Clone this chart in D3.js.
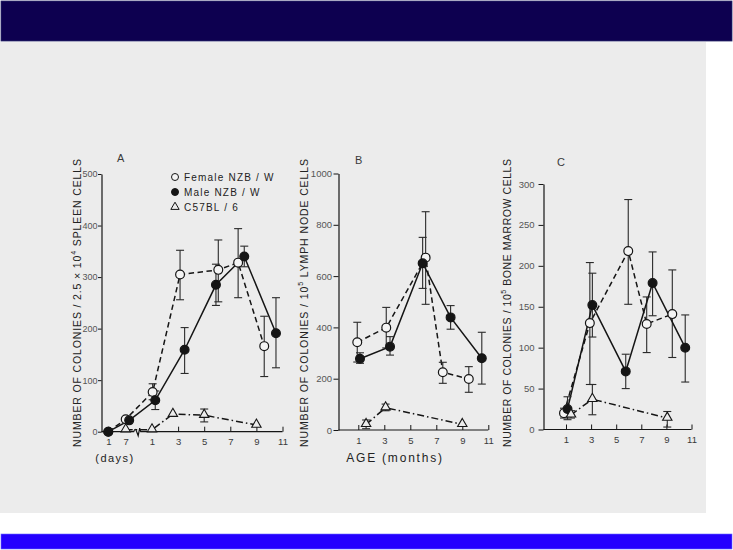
<!DOCTYPE html>
<html><head><meta charset="utf-8">
<script src="https://cdn.jsdelivr.net/npm/d3@7"></script>
<style>html,body{margin:0;padding:0;background:#fff;}svg{display:block;}</style>
</head><body>
<svg id="c" width="733" height="550"></svg>
<script>
// ---------- DATA ----------
const seriesNames = ["Female NZB / W", "Male NZB / W", "C57BL / 6"];
const panelLetters = ["A", "B", "C"];
const yTitles = [
  ["NUMBER OF COLONIES / 2.5 × 10", "4", " SPLEEN CELLS"],
  ["NUMBER OF COLONIES / 10", "5", " LYMPH NODE CELLS"],
  ["NUMBER OF COLONIES / 10", "5", " BONE MARROW CELLS"]
];
const aYTicks = [0, 100, 200, 300, 400, 500];
const bYTicks = [0, 200, 400, 600, 800, 1000];
const cYTicks = [0, 50, 100, 150, 200, 250, 300];
const dayTicks = [1, 7];
const monthTicks = [1, 3, 5, 7, 9, 11];
const xTitleA = "(days)";
const xTitleB = "AGE (months)";

// Panel A: [unit ("d" days / "m" months), x, value, low, high]
const aFemale = [["d",1,0,null,null],["d",7,24,null,null],["m",1.05,77,62,93],["m",3.15,305,256,352],["m",6.08,314,252,372],["m",7.6,328,260,394],["m",9.6,166,107,224]];
const aMale   = [["d",1,0,null,null],["d",8.2,22,null,null],["m",1.25,61,43,79],["m",3.5,159,113,202],["m",5.9,285,245,325],["m",8.07,340,320,360],["m",10.5,191,124,260]];
const aC57    = [["d",7,4,null,null],["m",1.0,4,null,null],["m",2.6,34,null,null],["m",5.0,32,19,44],["m",9.0,13,null,null]];

// Panel B: [month, value, low, high]
const bFemale = [[0.92,342,265,420],[3.15,399,320,478],[6.18,672,490,851],[7.5,225,182,264],[9.5,199,147,247]];
const bMale   = [[1.13,278,260,301],[3.44,325,292,364],[5.95,650,552,751],[8.1,439,393,485],[10.5,280,179,381]];
const bC57    = [[1.6,22,5,39],[3.1,87,75,101],[9.0,22,null,null]];

// Panel C: [month, value, low, high]
const cFemale = [[0.84,20,14,26],[2.9,130,55,204],[5.96,218,153,281],[7.43,129,94,162],[9.47,141,88,195]];
const cMale   = [[1.12,25,12,40],[3.1,152,113,191],[5.76,71,50,92],[7.9,179,139,217],[10.5,100,58,140]];
const cC57    = [[1.4,18,14,23],[3.1,37,18,55],[9.07,14,3,22]];

// ---------- DRAW ----------
const svg = d3.select("#c");
const INK = "#151515", TXT = "#3a3a3a", BG = "#ececec";
const FONT = "'Liberation Sans', Arial, sans-serif";

svg.append("rect").attr("x",0).attr("y",0).attr("width",733).attr("height",550).attr("fill","#fff");
svg.append("rect").attr("x",0).attr("y",42).attr("width",706).attr("height",471).attr("fill",BG);
svg.append("rect").attr("x",1).attr("y",1).attr("width",731).attr("height",40).attr("fill","#0d0050").attr("stroke","#2a2a6a").attr("stroke-width",0.8);
svg.append("rect").attr("x",1).attr("y",534).attr("width",731).attr("height",15).attr("fill","#2400ff").attr("stroke","#6a6aff").attr("stroke-width",0.6);

const panels = [
  {yAxisX:101.5, y0:431.7, y1:174, yMax:500, yTicks:aYTicks, m0:152, m1:282.5, xEnd:282.5, tick:3.5, pad:0.5, lab:9,
   series:[aFemale,aMale,aC57], letter:[117,162], titleX:81, days:true},
  {yAxisX:338.5, y0:430, y1:173.5, yMax:1000, yTicks:bYTicks, m0:358.3, m1:488.3, xEnd:488.3, tick:5, pad:1.5, lab:9.5,
   series:[bFemale,bMale,bC57], letter:[355,164], titleX:308},
  {yAxisX:543.5, y0:429.5, y1:184, yMax:300, yTicks:cYTicks, m0:566, m1:691.5, xEnd:691.5, tick:5, pad:4, lab:9.5,
   series:[cFemale,cMale,cC57], letter:[557,166], titleX:510.5}
];

const styles = [
  {dash:"5.5,3.5", marker:"open"},
  {dash:null, marker:"filled"},
  {dash:"7,3,1.5,3", marker:"tri"}
];

panels.forEach((p, pi) => {
  const g = svg.append("g");
  const y = d3.scaleLinear().domain([0, p.yMax]).range([p.y0, p.y1]);
  const xm = d3.scaleLinear().domain([1, 11]).range([p.m0, p.m1]);
  const xd = d3.scaleLinear().domain([1, 7]).range([108.3, 125.7]);
  const px = d => p.days ? (d[0] === "d" ? xd(d[1]) : xm(d[1])) : xm(d[0]);
  const off = p.days ? 1 : 0;
  const val = d => d[1 + off], lo = d => d[2 + off], hi = d => d[3 + off];

  // y axis
  const ya = d3.axisLeft(y).tickValues(p.yTicks).tickFormat(d3.format("d")).tickSizeInner(p.tick).tickSizeOuter(0).tickPadding(p.pad);
  const yg = g.append("g").attr("transform", `translate(${p.yAxisX},0)`).call(ya);
  yg.select(".domain").attr("stroke", INK).attr("stroke-width", 1.2);
  yg.selectAll(".tick line").attr("stroke", INK).attr("stroke-width", 1);
  yg.selectAll("text").attr("font-family", FONT).attr("font-size", p.lab).attr("fill", "#555");

  // x axis (ticks inward)
  const xa = d3.axisBottom(xm).tickValues(monthTicks).tickFormat(d3.format("d")).tickSizeInner(-5).tickSizeOuter(0).tickPadding(7);
  const xg = g.append("g").attr("transform", `translate(0,${p.y0})`).call(xa);
  xg.select(".domain").remove();
  xg.selectAll(".tick line").attr("stroke", INK).attr("stroke-width", 1);
  xg.selectAll("text").attr("font-family", FONT).attr("font-size", 9.5).attr("fill", TXT);
  if (p.days) {
    const xda = d3.axisBottom(xd).tickValues(dayTicks).tickFormat(d3.format("d")).tickSizeInner(-5).tickSizeOuter(0).tickPadding(7);
    const xdg = g.append("g").attr("transform", `translate(0,${p.y0})`).call(xda);
    xdg.select(".domain").remove();
    xdg.selectAll(".tick line").attr("stroke", INK).attr("stroke-width", 1);
    xdg.selectAll("text").attr("font-family", FONT).attr("font-size", 9.5).attr("fill", TXT);
    const b0 = xd(7) + 8, yy = p.y0;
    const path = d3.path();
    path.moveTo(p.yAxisX, yy); path.lineTo(b0, yy);
    path.quadraticCurveTo(b0 + 1.5, yy - 4.5, b0 + 3, yy);
    path.lineTo(b0 + 4.5, yy + 4); path.lineTo(b0 + 6, yy - 3.5); path.lineTo(b0 + 7, yy);
    path.lineTo(p.xEnd, yy);
    g.append("path").attr("d", path.toString()).attr("fill", "none").attr("stroke", INK).attr("stroke-width", 1.2);
  } else {
    g.append("line").attr("x1", p.yAxisX).attr("x2", p.xEnd).attr("y1", p.y0).attr("y2", p.y0)
      .attr("stroke", INK).attr("stroke-width", 1.2);
  }

  // panel letter
  g.append("text").attr("x", p.letter[0]).attr("y", p.letter[1]).text(panelLetters[pi])
    .attr("font-family", FONT).attr("font-size", 11).attr("fill", TXT);

  // y title
  const tc = 303;
  const tt = g.append("text").attr("transform", `translate(${p.titleX},${tc}) rotate(-90)`)
    .attr("text-anchor", "middle").attr("font-family", FONT).attr("font-size", 10.5).attr("fill", "#222")
    .attr("textLength", 288).attr("lengthAdjust", "spacing");
  tt.append("tspan").text(yTitles[pi][0]);
  tt.append("tspan").text(yTitles[pi][1]).attr("font-size", 7).attr("dy", -5);
  tt.append("tspan").text(yTitles[pi][2]).attr("dy", 5);

  // series
  p.series.forEach((s, si) => {
    const st = styles[si];
    const line = d3.line().x(px).y(d => y(val(d)));
    g.append("path").datum(s).attr("d", line).attr("fill", "none").attr("stroke", INK)
      .attr("stroke-width", 1.5).attr("stroke-dasharray", st.dash);
    const eb = s.filter(d => lo(d) != null);
    const eg = g.append("g").attr("stroke", "#2a2a2a").attr("stroke-width", 1.1);
    eg.selectAll("line.v").data(eb).join("line").attr("x1", px).attr("x2", px)
      .attr("y1", d => y(lo(d))).attr("y2", d => y(hi(d)));
    eg.selectAll("line.t").data(eb).join("line").attr("x1", d => px(d) - 4).attr("x2", d => px(d) + 4)
      .attr("y1", d => y(hi(d))).attr("y2", d => y(hi(d)));
    eg.selectAll("line.b").data(eb).join("line").attr("x1", d => px(d) - 4).attr("x2", d => px(d) + 4)
      .attr("y1", d => y(lo(d))).attr("y2", d => y(lo(d)));
  });
  p.series.forEach((s, si) => {
    const st = styles[si];
    if (st.marker === "tri") {
      g.selectAll(null).data(s).join("path").attr("d", d3.symbol(d3.symbolTriangle, 38))
        .attr("transform", d => `translate(${px(d)},${y(val(d)) - 0.5})`)
        .attr("fill", BG).attr("stroke", INK).attr("stroke-width", 1.1);
    } else {
      g.selectAll(null).data(s).join("circle").attr("cx", px).attr("cy", d => y(val(d))).attr("r", 4.4)
        .attr("fill", st.marker === "open" ? "#f4f4f4" : INK).attr("stroke", INK).attr("stroke-width", 1.2);
    }
  });

  // x axis title
  if (pi === 0) {
    g.append("text").attr("x", 115).attr("y", 462).attr("text-anchor", "middle").text(xTitleA)
      .attr("font-family", FONT).attr("font-size", 11).attr("letter-spacing", 1.5).attr("fill", "#222");
  }
  if (pi === 1) {
    g.append("text").attr("x", 395).attr("y", 462).attr("text-anchor", "middle").text(xTitleB)
      .attr("font-family", FONT).attr("font-size", 12).attr("letter-spacing", 1.8).attr("fill", "#222");
  }
});

// legend (panel A)
const lg = svg.append("g");
const legY = d3.scalePoint().domain(seriesNames).range([177, 207]);
seriesNames.forEach((n, i) => {
  const yy = legY(n);
  if (i === 2) {
    lg.append("path").attr("d", d3.symbol(d3.symbolTriangle, 30)).attr("transform", `translate(175,${yy})`)
      .attr("fill", BG).attr("stroke", INK).attr("stroke-width", 1);
  } else {
    lg.append("circle").attr("cx", 175).attr("cy", yy).attr("r", 3.5)
      .attr("fill", i === 0 ? "#f4f4f4" : INK).attr("stroke", INK).attr("stroke-width", 1);
  }
  lg.append("text").attr("x", 184).attr("y", yy + 3.5).text(n).attr("font-family", FONT)
    .attr("font-size", 10).attr("letter-spacing", 1.2).attr("fill", "#222");
});
</script>
</body></html>
